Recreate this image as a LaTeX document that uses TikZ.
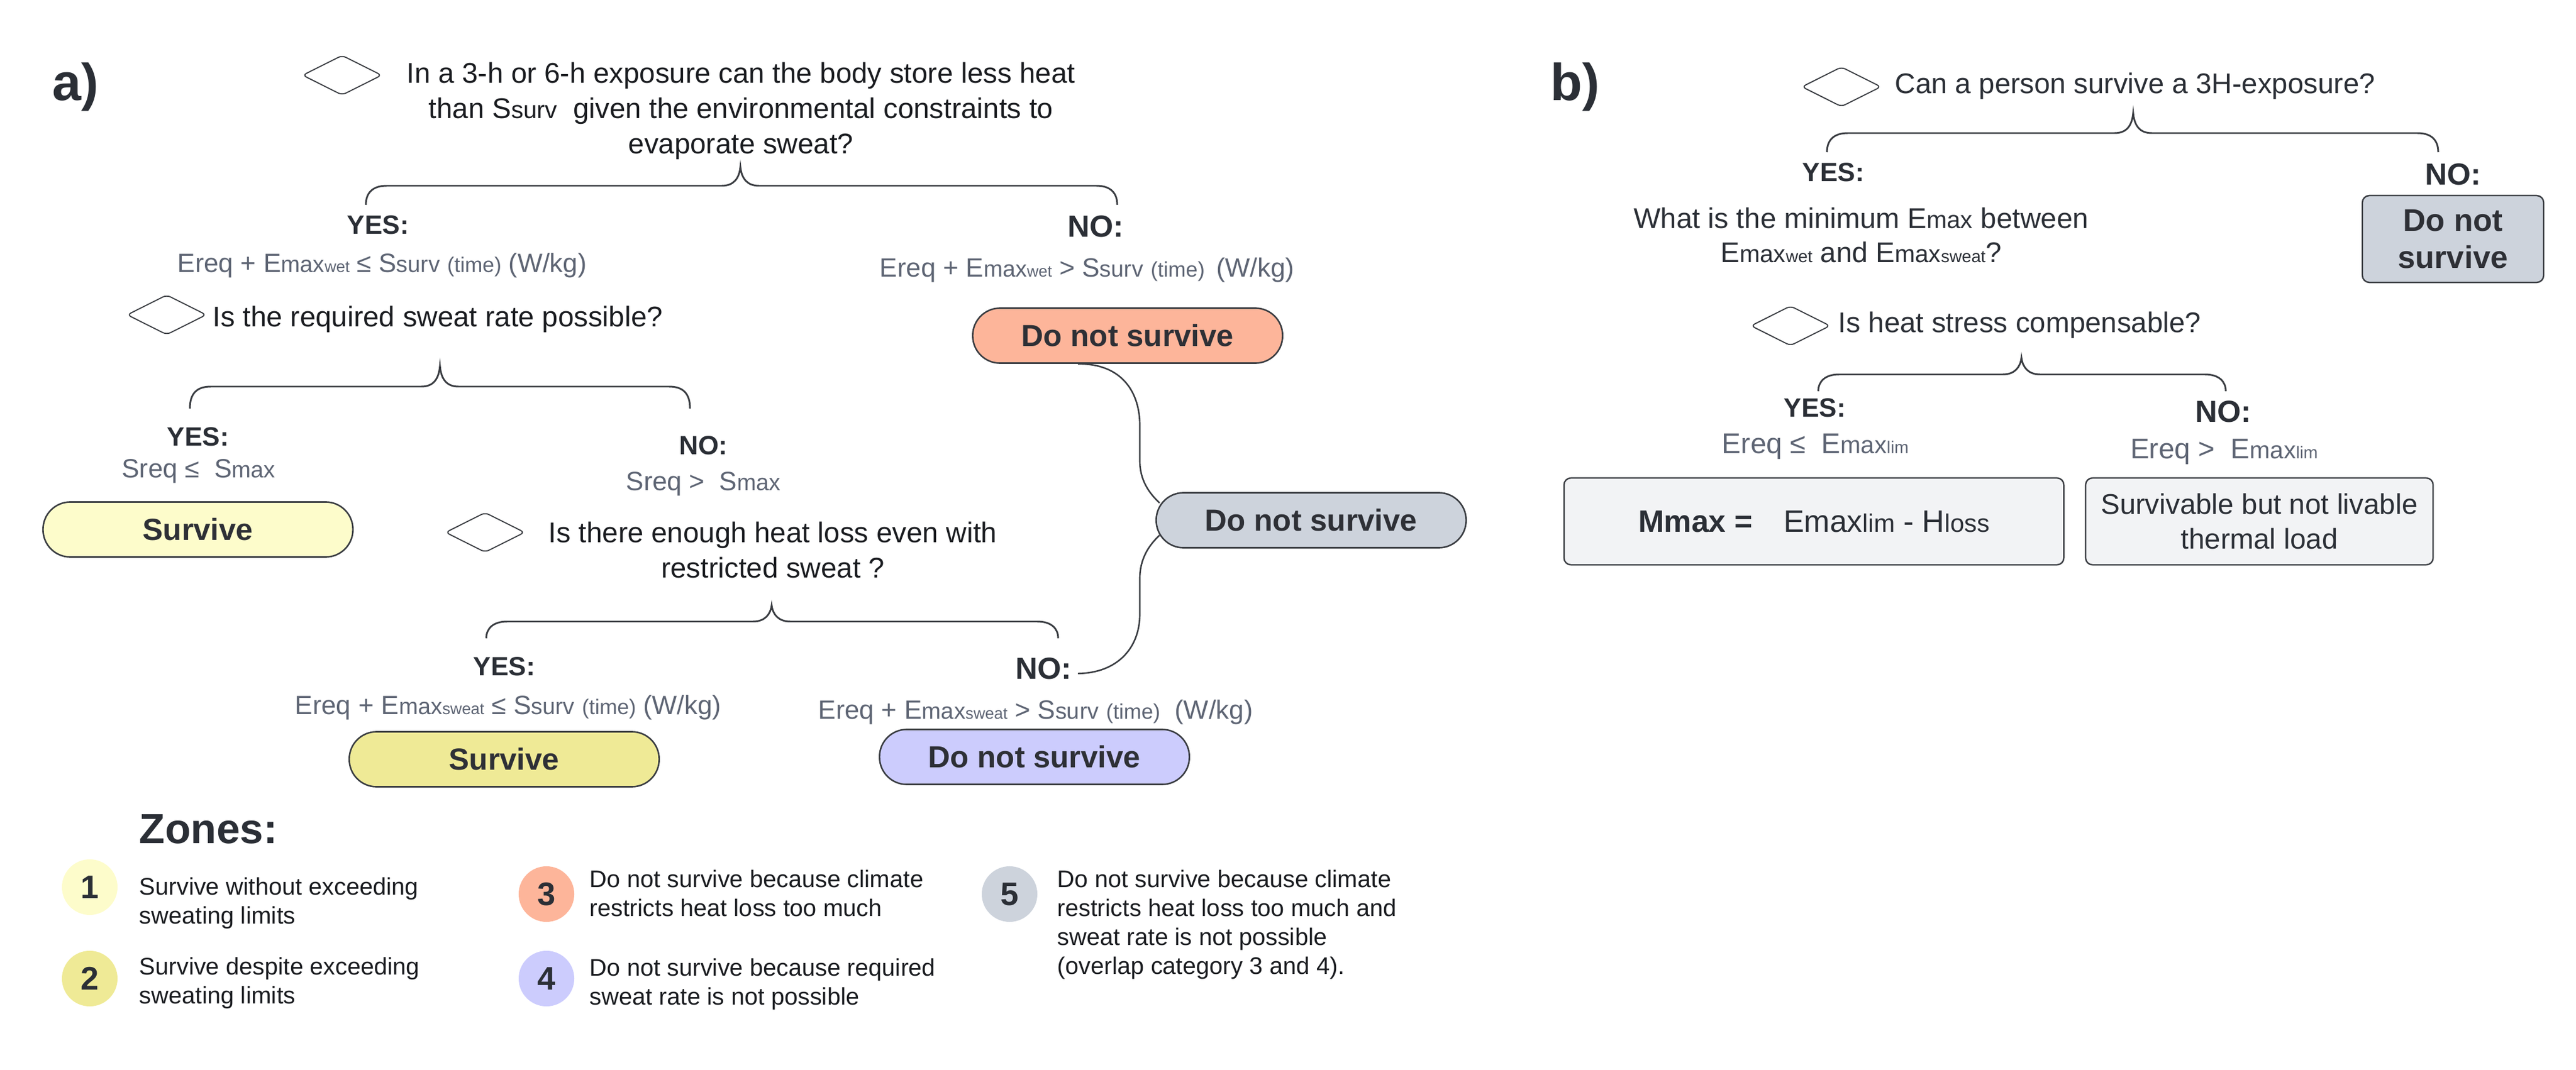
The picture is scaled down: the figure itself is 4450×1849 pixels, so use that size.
\documentclass[tikz,border=0pt]{standalone}
\usepackage{fontspec}
\setmainfont{Liberation Sans}
\usetikzlibrary{shapes.geometric}
\definecolor{ln}{HTML}{3A3D42}
\definecolor{qtx}{HTML}{1A1C20}
\definecolor{lab}{HTML}{2B2F36}
\definecolor{cnd}{HTML}{5E6574}
\definecolor{ptx}{HTML}{2E3036}
\definecolor{fyel}{HTML}{FDFCCB}
\definecolor{fkha}{HTML}{EFEA96}
\definecolor{fora}{HTML}{FDB59A}
\definecolor{fgry}{HTML}{CDD3DC}
\definecolor{fpur}{HTML}{CCCCFD}
\definecolor{fbox}{HTML}{F2F3F5}
% sizes for panel b and questions (base 14pt)
\newcommand\zmd[1]{{\fontsize{12pt}{14pt}\selectfont #1}}
\newcommand\zsm[1]{{\fontsize{8.4pt}{10pt}\selectfont #1}}
% sizes for panel a conditions (base 13pt)
\newcommand\amd[1]{{\fontsize{11.3pt}{13pt}\selectfont #1}}
\newcommand\asm[1]{{\fontsize{7.9pt}{9pt}\selectfont #1}}
\newcommand\atm[1]{{\fontsize{10.4pt}{12pt}\selectfont #1}}
\newcommand\zlm[1]{{\fontsize{12.4pt}{14pt}\selectfont #1}}
\newcommand\mybrace[6]{%
  \draw[brc] (#1,#4) .. controls (#1,#5+12) and (#1+12,#5) .. (#1+36,#5)
    -- (#3-32,#5) .. controls (#3-12,#5) and (#3-2,#5-12) .. (#3,#6)
    .. controls (#3+2,#5-12) and (#3+12,#5) .. (#3+32,#5)
    -- (#2-36,#5) .. controls (#2-12,#5) and (#2,#5+12) .. (#2,#4);}
\begin{document}
\begin{tikzpicture}[x=0.01cm,y=-0.01cm,
  qtext/.style={font=\fontsize{14pt}{17.4pt}\selectfont, text=qtx, inner sep=0, align=center},
  btext/.style={font=\fontsize{14pt}{16.8pt}\selectfont, text=lab, inner sep=0, align=center},
  yeslab/.style={font=\bfseries\fontsize{13pt}{15pt}\selectfont, text=lab, inner sep=0},
  nolab/.style={font=\bfseries\fontsize{15pt}{18pt}\selectfont, text=lab, inner sep=0},
  cond/.style={font=\fontsize{13pt}{16pt}\selectfont, text=cnd, inner sep=0},
  bcond/.style={font=\fontsize{14pt}{17pt}\selectfont, text=cnd, inner sep=0},
  pill/.style={draw=ln, line width=0.75pt, rounded corners=0.47cm, minimum width=5.35cm,
    minimum height=0.95cm, inner sep=0, font=\bfseries\fontsize{15pt}{18pt}\selectfont, text=ptx},
  dmd/.style={diamond, draw=ln, line width=0.55pt, aspect=2, minimum width=1.37cm,
    minimum height=0.69cm, inner sep=0, rounded corners=2pt},
  brc/.style={draw=ln, line width=0.85pt},
  conn/.style={draw=ln, line width=0.75pt},
  zcirc/.style={circle, minimum size=0.96cm, inner sep=0, font=\bfseries\fontsize{16pt}{18pt}\selectfont, text=lab},
  ztext/.style={font=\fontsize{11.8pt}{14.2pt}\selectfont, text=qtx, inner sep=0, align=left, anchor=north west},
  bbox/.style={draw=ln, line width=0.7pt, rounded corners=0.12cm, inner sep=0},
  panel/.style={font=\bfseries\fontsize{25.6pt}{28pt}\selectfont, text=lab, inner sep=0, anchor=base west}
]
\useasboundingbox (0,0) rectangle (4450,1849);
% ---------------- panel a ----------------
\node[panel] (pa) at (90,174) {a)};
\node[dmd] (d1) at (591,130) {};
\node[qtext, anchor=north] (q1) at (1280,107) {In a 3-h or 6-h exposure can the body store less heat\\than S\zmd{surv}~ given the environmental constraints to\\evaporate sweat?};
\mybrace{632}{1930}{1279}{354}{321}{288}
\node[yeslab, anchor=base] (y1) at (653,405) {YES:};
\node[nolab, anchor=base] (n1) at (1893,410) {NO:};
\node[cond, anchor=base] (c1y) at (660,471) {Ereq + E\amd{max}\asm{wet} ≤ S\amd{surv} \atm{(time)} (W/kg)};
\node[cond, anchor=base] (c1n) at (1878,479) {Ereq + E\amd{max}\asm{wet} > S\amd{surv} \atm{(time)}\, (W/kg)};
\node[pill, fill=fora] (dns1) at (1948,580) {Do not survive};

\node[dmd] (d2) at (288,544) {};
\node[qtext, anchor=base west] (q2) at (367,564) {Is the required sweat rate possible?};
\mybrace{328}{1192}{760}{706}{668}{632}
\node[yeslab, anchor=base] (y2) at (342,770) {YES:};
\node[cond, anchor=base] (c2y) at (343,825) {Sreq ≤~ S\amd{max}};
\node[yeslab, anchor=base] (n2) at (1215,785) {NO:};
\node[cond, anchor=base] (c2n) at (1215,847) {Sreq >~ S\amd{max}};
\node[pill, fill=fyel] (sv1) at (342,915) {Survive};

\node[dmd] (d3) at (838,920) {};
\node[qtext, anchor=north] (q3) at (1335,901) {Is there enough heat loss even with\\restricted sweat ?};
\mybrace{840}{1828}{1333}{1103}{1074}{1046}
\node[yeslab, anchor=base] (y3) at (871,1167) {YES:};
\node[cond, anchor=base] (c3y) at (878,1234) {Ereq + E\amd{max}\asm{sweat} ≤ S\amd{surv} \atm{(time)} (W/kg)};
\node[nolab, anchor=base] (n3) at (1803,1173) {NO:};
\node[cond, anchor=base] (c3n) at (1789,1242) {Ereq + E\amd{max}\asm{sweat} > S\amd{surv} \atm{(time)}~ (W/kg)};
\node[pill, fill=fkha] (sv2) at (871,1312) {Survive};
\node[pill, fill=fpur] (dns4) at (1787,1308) {Do not survive};
\node[pill, fill=fgry] (dns5) at (2265,899) {Do not survive};

\draw[conn] ([shift={(-86,0)}]dns1.south) .. controls (1940,628) and (1969,680) .. (1969,735)
  -- (1969,796) .. controls (1969,830) and (1985,852) .. ([shift={(7,-30)}]dns5.west);
\draw[conn] ([shift={(7,26)}]dns5.west) .. controls (1985,942) and (1969,965) .. (1969,1000)
  -- (1969,1061) .. controls (1969,1120) and (1930,1163) .. ([shift={(10,9)}]n3.east);

% zones
\node[font=\bfseries\fontsize{20.7pt}{24pt}\selectfont, text=lab, inner sep=0, anchor=base west] (zt) at (240,1457) {Zones:};
\node[zcirc, fill=fyel] (z1) at (155,1533) {1};
\node[zcirc, fill=fkha] (z2) at (155,1691) {2};
\node[zcirc, fill=fora] (z3) at (944,1545) {3};
\node[zcirc, fill=fpur] (z4) at (944,1691) {4};
\node[zcirc, fill=fgry] (z5) at (1744,1545) {5};
\node[ztext] (t1) at (240,1516) {Survive without exceeding\\sweating limits};
\node[ztext] (t2) at (240,1654) {Survive despite exceeding\\sweating limits};
\node[ztext] (t3) at (1018,1503) {Do not survive because climate\\restricts heat loss too much};
\node[ztext] (t4) at (1018,1656) {Do not survive because required\\sweat rate is not possible};
\node[ztext] (t5) at (1826,1503) {Do not survive because climate\\restricts heat loss too much and\\sweat rate is not possible\\(overlap category 3 and 4).};

% ---------------- panel b ----------------
\node[panel] (pb) at (2678,174) {b)};
\node[dmd] (bd1) at (3181,150) {};
\node[btext, anchor=base west] (bq1) at (3273,162) {Can a person survive a 3H-exposure?};
\mybrace{3156}{4212}{3685}{263}{230}{195}
\node[yeslab, anchor=base] (by1) at (3167,314) {YES:};
\node[nolab, anchor=base] (bn1) at (4238,320) {NO:};
\node[btext, anchor=north] (bq2) at (3215,358) {What is the minimum E\zmd{max} between\\E\zmd{max}\zsm{wet} and E\zmd{max}\zsm{sweat}?};
\node[bbox, fill=fgry, minimum width=3.13cm, minimum height=1.5cm, align=center,
  font=\bfseries\fontsize{15.4pt}{18.2pt}\selectfont, text=ptx] (bdns) at (4237.5,413) {Do not\\survive};
\node[dmd] (bd2) at (3093,563) {};
\node[btext, anchor=base west] (bq3) at (3175,574) {Is heat stress compensable?};
\mybrace{3141}{3845}{3492}{676}{647}{618}
\node[yeslab, anchor=base] (by2) at (3135,721) {YES:};
\node[nolab, anchor=base] (bn2) at (3841,729) {NO:};
\node[bcond, anchor=base] (bc2y) at (3136,783) {Ereq ≤~ E\zmd{max}\zsm{lim}};
\node[bcond, anchor=base] (bc2n) at (3842,792) {Ereq >~ E\zmd{max}\zsm{lim}};
\node[bbox, fill=fbox, minimum width=8.63cm, minimum height=1.5cm,
  font=\fontsize{15.2pt}{18pt}\selectfont, text=lab] (bm) at (3133.5,901)
  {\textbf{Mmax =}\quad Emax\zlm{lim} - H\zlm{loss}};
\node[bbox, fill=fbox, minimum width=6cm, minimum height=1.5cm, align=center,
  font=\fontsize{14pt}{17pt}\selectfont, text=lab] (bs) at (3903,901)
  {Survivable but not livable\\thermal load};
\end{tikzpicture}
\end{document}
